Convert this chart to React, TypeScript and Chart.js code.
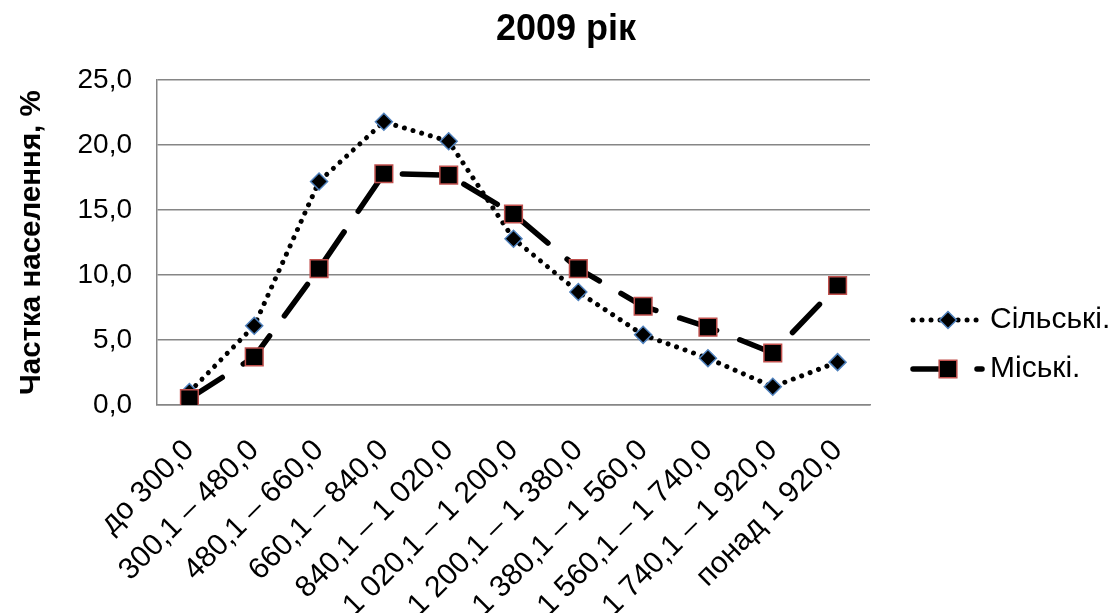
import React, { useEffect, useRef } from "react";
import { Chart, registerables } from "chart.js";

Chart.register(...registerables);

const categories = [
  "до 300,0",
  "300,1 – 480,0",
  "480,1 – 660,0",
  "660,1 – 840,0",
  "840,1 – 1 020,0",
  "1 020,1 – 1 200,0",
  "1 200,1 – 1 380,0",
  "1 380,1 – 1 560,0",
  "1 560,1 – 1 740,0",
  "1 740,1 – 1 920,0",
  "понад 1 920,0",
];
const ruralValues = [1.0, 6.1, 17.2, 21.8, 20.3, 12.8, 8.7, 5.4, 3.6, 1.4, 3.3];
const urbanValues = [0.5, 3.7, 10.5, 17.8, 17.7, 14.7, 10.5, 7.6, 6.0, 4.0, 9.2];
const seriesNames = ["Сільські.", "Міські."];
const chartTitle = "2009 рік";
const yAxisTitle = "Частка населення, %";
const yTicks = [0, 5, 10, 15, 20, 25];

const FONT = "'Liberation Sans', Arial, sans-serif";
const RURAL_DASH = [0.01, 9];
const URBAN_DASH = [39, 25];

const legendPlugin = {
  id: "customLegend",
  afterDraw(chart: any) {
    const ctx = chart.ctx;
    const items = [
      { y: 320, dash: RURAL_DASH, width: 5, style: "rectRot", r: 8.5, border: "#4f81bd", text: seriesNames[0] },
      { y: 369, dash: URBAN_DASH, width: 5.5, style: "rect", r: 12.5, border: "#c0504d", text: seriesNames[1] },
    ];
    const x1 = 913;
    const x2 = 982;
    const xm = 948;
    items.forEach((it) => {
      ctx.save();
      ctx.strokeStyle = "#000";
      ctx.lineWidth = it.width;
      ctx.lineCap = "round";
      ctx.setLineDash(it.dash);
      ctx.beginPath();
      ctx.moveTo(x1, it.y);
      ctx.lineTo(x2, it.y);
      ctx.stroke();
      ctx.setLineDash([]);
      ctx.fillStyle = "#000";
      ctx.strokeStyle = it.border;
      ctx.lineWidth = 1.5;
      ctx.beginPath();
      if (it.style === "rect") {
        const s = it.r * Math.SQRT1_2;
        ctx.rect(xm - s, it.y - s, 2 * s, 2 * s);
      } else {
        ctx.moveTo(xm - it.r, it.y);
        ctx.lineTo(xm, it.y - it.r);
        ctx.lineTo(xm + it.r, it.y);
        ctx.lineTo(xm, it.y + it.r);
        ctx.closePath();
      }
      ctx.fill();
      ctx.stroke();
      ctx.fillStyle = "#000";
      ctx.font = `30px ${FONT}`;
      ctx.textAlign = "left";
      ctx.textBaseline = "middle";
      ctx.fillText(it.text, 990, it.y);
      ctx.restore();
    });
  },
};

export default function App() {
  const canvasRef = useRef<HTMLCanvasElement>(null);

  useEffect(() => {
    document.body.style.margin = "0";
    const canvas = canvasRef.current;
    if (!canvas) return;
    const chart = new Chart(canvas, {
      type: "line",
      data: {
        labels: categories,
        datasets: [
          {
            label: seriesNames[0],
            data: ruralValues,
            borderColor: "#000",
            borderWidth: 5,
            borderDash: RURAL_DASH,
            borderCapStyle: "round",
            borderJoinStyle: "round",
            pointStyle: "rectRot",
            pointRadius: 8.5,
            pointBackgroundColor: "#000",
            pointBorderColor: "#4f81bd",
            pointBorderWidth: 1.5,
            fill: false,
            order: 1,
          },
          {
            label: seriesNames[1],
            data: urbanValues,
            borderColor: "#000",
            borderWidth: 5.5,
            borderDash: URBAN_DASH,
            borderCapStyle: "round",
            borderJoinStyle: "round",
            pointStyle: "rect",
            pointRadius: 12.5,
            pointBackgroundColor: "#000",
            pointBorderColor: "#c0504d",
            pointBorderWidth: 1.5,
            fill: false,
            order: 0,
          },
        ],
      },
      options: {
        responsive: false,
        animation: false,
        events: [],
        layout: { padding: { left: 20, right: 0, top: 0, bottom: 0 } },
        plugins: {
          legend: { display: false },
          tooltip: { enabled: false },
          title: {
            display: true,
            text: chartTitle,
            color: "#000",
            font: { family: FONT, size: 36, weight: "bold" },
            padding: { top: 8, bottom: 29 },
          },
        },
        scales: {
          x: {
            offset: true,
            grid: { display: false, drawTicks: false },
            border: { display: true, color: "#868686", width: 1.5 },
            ticks: {
              color: "#000",
              font: { family: FONT, size: 30 },
              maxRotation: 45,
              minRotation: 45,
              autoSkip: false,
              padding: 28,
            },
            afterFit(scale: any) {
              scale.height = 208;
            },
          },
          y: {
            min: 0,
            max: 25,
            afterBuildTicks(scale: any) {
              scale.ticks = yTicks.map((v) => ({ value: v }));
            },
            grid: { color: "#868686", lineWidth: 1.5, drawTicks: false },
            border: { display: true, color: "#868686", width: 1.5 },
            ticks: {
              color: "#000",
              font: { family: FONT, size: 28 },
              padding: 25,
              callback: (v: any) => Number(v).toFixed(1).replace(".", ","),
            },
            title: {
              display: true,
              text: yAxisTitle,
              color: "#000",
              font: { family: FONT, size: 29.5, weight: "bold" },
              padding: { top: -6, bottom: 0 },
            },
            afterFit(scale: any) {
              scale.width = 137;
            },
          },
          legendSpace: {
            type: "linear",
            position: "right",
            display: true,
            grid: { display: false, drawTicks: false },
            border: { display: false },
            ticks: { display: false },
            afterFit(scale: any) {
              scale.width = 242;
            },
          },
        },
      },
      plugins: [legendPlugin],
    } as any);
    return () => chart.destroy();
  }, []);

  return (
    <div style={{ width: 1112, height: 613, background: "#fff" }}>
      <canvas ref={canvasRef} width={1112} height={613} />
    </div>
  );
}
